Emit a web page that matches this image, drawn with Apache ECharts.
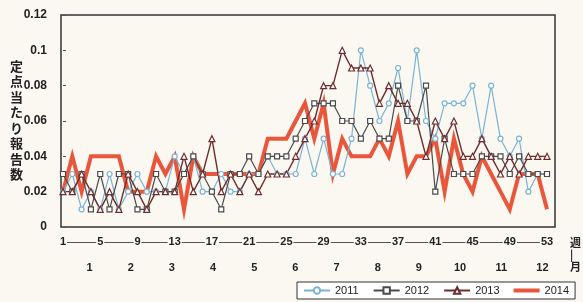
<!DOCTYPE html>
<html>
<head>
<meta charset="utf-8">
<script src="https://cdn.jsdelivr.net/npm/echarts@6/dist/echarts.min.js"></script>
<style>
html, body { margin: 0; padding: 0; background: #faf8f0; }
#chart { width: 583px; height: 302px; }
</style>
</head>
<body>
<div id="chart"></div>
<script>
var weeks = [];
for (var i = 1; i <= 53; i++) {
	weeks.push(String(i));
}
var months = ["1", "2", "3", "4", "5", "6", "7", "8", "9", "10", "11", "12"];
var yTicks = [0, 0.02, 0.04, 0.06, 0.08, 0.1, 0.12];

var data2011 = [0.02, 0.03, 0.01, 0.02, 0.01, 0.03, 0.01, 0.02, 0.03, 0.02,
	0.02, 0.02, 0.04, 0.03, 0.04, 0.02, 0.02, 0.03, 0.02, 0.02,
	0.03, 0.03, 0.04, 0.03, 0.03, 0.03, 0.05, 0.03, 0.05, 0.03,
	0.03, 0.05, 0.10, 0.08, 0.06, 0.07, 0.09, 0.06, 0.10, 0.06,
	0.05, 0.07, 0.07, 0.07, 0.08, 0.05, 0.08, 0.05, 0.04, 0.05,
	0.02, 0.03, 0.03];
var data2012 = [0.03, 0.02, 0.03, 0.01, 0.03, 0.01, 0.03, 0.03, 0.01, 0.01,
	0.03, 0.02, 0.02, 0.03, 0.04, 0.03, 0.02, 0.01, 0.03, 0.03,
	0.04, 0.03, 0.04, 0.04, 0.04, 0.05, 0.06, 0.07, 0.07, 0.07,
	0.06, 0.06, 0.05, 0.06, 0.05, 0.05, 0.08, 0.06, 0.06, 0.08,
	0.02, 0.05, 0.03, 0.03, 0.03, 0.04, 0.04, 0.04, 0.03, 0.04,
	0.03, 0.03, 0.03];
var data2013 = [0.02, 0.02, 0.03, 0.02, 0.01, 0.02, 0.01, 0.03, 0.02, 0.01,
	0.02, 0.02, 0.02, 0.04, 0.02, 0.03, 0.05, 0.02, 0.03, 0.02,
	0.03, 0.02, 0.03, 0.03, 0.03, 0.04, 0.05, 0.06, 0.08, 0.08,
	0.10, 0.09, 0.09, 0.09, 0.07, 0.08, 0.07, 0.07, 0.06, 0.04,
	0.06, 0.05, 0.06, 0.04, 0.04, 0.05, 0.04, 0.03, 0.04, 0.03,
	0.04, 0.04, 0.04];
var data2014 = [0.02, 0.04, 0.02, 0.04, 0.04, 0.04, 0.04, 0.02, 0.02, 0.02,
	0.04, 0.03, 0.04, 0.01, 0.04, 0.03, 0.03, 0.03, 0.03, 0.03,
	0.03, 0.03, 0.05, 0.05, 0.05, 0.06, 0.07, 0.05, 0.07, 0.03,
	0.05, 0.04, 0.04, 0.04, 0.05, 0.04, 0.06, 0.03, 0.04, 0.04,
	0.05, 0.02, 0.05, 0.03, 0.02, 0.04, 0.03, 0.02, 0.01, 0.03,
	0.03, 0.03, 0.01];

var chart = echarts.init(document.getElementById("chart"));
var font = "Liberation Sans, Arial, sans-serif";

var option = {
	backgroundColor: "#faf8f0",
	animation: false,
	textStyle: {
		fontFamily: font
	},
	grid: [
		// frame
		{left: 61, right: 28, top: 15, bottom: 75, show: true, borderColor: "#333", borderWidth: 1.5, backgroundColor: "transparent"},
		// data
		{left: 63, right: 36, top: 15, bottom: 75},
		// months
		{left: 69, right: 20, top: 15, bottom: 75}
	],
	legend: {
		left: 297,
		top: 282,
		width: 290,
		padding: [3, 6],
		itemGap: 14,
		itemWidth: 26,
		itemHeight: 8,
		borderColor: "#333",
		borderWidth: 1,
		backgroundColor: "#fff",
		textStyle: {
			fontSize: 11,
			color: "#222",
			fontFamily: font
		},
		data: ["2011", "2012", "2013", {name: "2014", icon: "path://M0,0H26V4H0Z"}]
	},
	xAxis: [
		{
			gridIndex: 1,
			type: "category",
			data: weeks,
			boundaryGap: false,
			position: "bottom",
			offset: 15,
			axisLine: {
				show: true,
				onZero: false,
				lineStyle: {color: "#555", width: 1}
			},
			axisTick: {show: false},
			axisLabel: {
				interval: 3,
				margin: 0,
				verticalAlign: "middle",
				fontSize: 11,
				fontWeight: "bold",
				color: "#222",
				backgroundColor: "#faf8f0",
				padding: [0, 1]
			}
		},
		{
			gridIndex: 2,
			type: "category",
			data: months,
			boundaryGap: true,
			axisLine: {show: false, onZero: false},
			axisTick: {show: false},
			axisLabel: {
				margin: 35,
				fontSize: 11,
				fontWeight: "bold",
				color: "#222"
			}
		}
	],
	yAxis: [
		{
			gridIndex: 1,
			type: "value",
			min: 0,
			max: 0.12,
			interval: 0.02,
			axisLine: {show: false},
			axisTick: {
				show: true,
				inside: true,
				length: 3,
				lineStyle: {color: "#555"}
			},
			splitLine: {show: false},
			axisLabel: {
				margin: 16,
				fontSize: 12,
				fontWeight: "bold",
				color: "#222",
				formatter: function (v) {
					var idx = yTicks.indexOf(Math.round(v * 100) / 100);
					return idx >= 0 ? String(yTicks[idx]) : "";
				}
			}
		},
		{
			gridIndex: 2,
			type: "value",
			show: false
		}
	],
	graphic: [
		{
			type: "text",
			left: 10,
			top: 58,
			style: {
				text: "定\n点\n当\nた\nり\n報\n告\n数",
				font: "bold 13px 'Noto Sans CJK JP'",
				lineHeight: 15.5,
				fill: "#222"
			}
		},
		{
			type: "text",
			left: 570,
			top: 237,
			style: {
				text: "週\n|\n月",
				font: "bold 11px 'Noto Sans CJK JP'",
				lineHeight: 12,
				fill: "#222",
				align: "center"
			}
		}
	],
	series: [
		{
			name: "2011",
			type: "line",
			xAxisIndex: 0,
			yAxisIndex: 0,
			data: data2011,
			symbol: "circle",
			symbolSize: 5,
			itemStyle: {color: "#fff", borderColor: "#7ab4d4", borderWidth: 1.2},
			lineStyle: {color: "#7ab4d4", width: 1.2}
		},
		{
			name: "2012",
			type: "line",
			xAxisIndex: 0,
			yAxisIndex: 0,
			data: data2012,
			symbol: "rect",
			symbolSize: 5,
			itemStyle: {color: "#fff", borderColor: "#4a4a4a", borderWidth: 1.2},
			lineStyle: {color: "#4a4a4a", width: 1.2}
		},
		{
			name: "2013",
			type: "line",
			xAxisIndex: 0,
			yAxisIndex: 0,
			data: data2013,
			symbol: "triangle",
			symbolSize: 6,
			itemStyle: {color: "#fff", borderColor: "#6e2c2e", borderWidth: 1.2},
			lineStyle: {color: "#6e2c2e", width: 1.4}
		},
		{
			name: "2014",
			type: "line",
			xAxisIndex: 0,
			yAxisIndex: 0,
			data: data2014,
			symbol: "none",
			itemStyle: {color: "#e9563b"},
			lineStyle: {color: "#e9563b", width: 4, join: "miter"},
			z: 1
		}
	]
};

chart.setOption(option);
</script>
</body>
</html>
